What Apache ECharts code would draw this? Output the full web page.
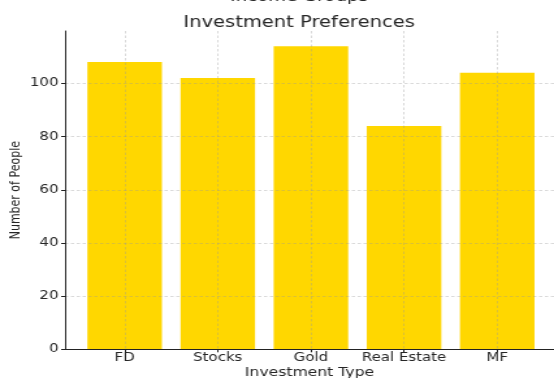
<!DOCTYPE html>
<html>
<head>
<meta charset="utf-8">
<script src="https://cdn.jsdelivr.net/npm/echarts@6/dist/echarts.min.js"></script>
<style>
  html, body { margin: 0; padding: 0; background: #fff; overflow: hidden; }
  /* chart is laid out at a narrower width and widened to fill the page */
  #chart { width: 426px; height: 378px; transform: scaleX(1.3005); transform-origin: 0 0; }
</style>
</head>
<body>
<div id="chart"></div>
<script>
const categories = ['FD', 'Stocks', 'Gold', 'Real Estate', 'MF'];
const people = [108, 102, 114, 84, 104];
const yTicks = [0, 20, 40, 60, 80, 100];

const font = 'DejaVu Sans';
const ink = '#262626';
const gridLine = { show: true, lineStyle: { color: 'rgba(150,150,150,0.45)', width: 0.8, type: [2.5, 2] } };
const catIndex = categories.map((c, i) => i);

const chart = echarts.init(document.getElementById('chart'));
chart.setOption({
  animation: false,
  backgroundColor: '#fff',
  title: [
    { text: 'Income Groups', left: 225, top: -15, textAlign: 'center',
      textStyle: { fontFamily: font, fontSize: 14, fontWeight: 'normal', color: ink } },
    { text: 'Investment Preferences', left: 225, top: 11, textAlign: 'center',
      textStyle: { fontFamily: font, fontSize: 15, fontWeight: 'normal', color: ink } }
  ],
  grid: { left: 50, right: 0, top: 31, bottom: 28.7, containLabel: false, outerBoundsMode: 'none' },
  xAxis: {
    type: 'value',
    min: -0.64,
    max: 4.61,
    z: 5,
    name: 'Investment Type',
    nameLocation: 'middle',
    nameGap: 18,
    nameMoveOverlap: false,
    nameTextStyle: { fontFamily: font, fontSize: 12, color: ink },
    axisLine: { show: true, onZero: false, lineStyle: { color: '#222', width: 1 } },
    axisTick: { show: true, inside: false, length: 3, customValues: catIndex, lineStyle: { color: '#222' } },
    axisLabel: {
      customValues: catIndex,
      formatter: v => categories[Math.round(v)] || '',
      margin: 3,
      fontFamily: font, fontSize: 11.5, color: ink
    },
    splitLine: gridLine
  },
  yAxis: {
    type: 'value',
    min: 0,
    max: 119.7,
    z: 5,
    name: 'Number of People',
    nameLocation: 'middle',
    nameGap: 32,
    nameMoveOverlap: false,
    nameTextStyle: { fontFamily: font, fontSize: 11, color: ink },
    axisLine: { show: true, onZero: false, lineStyle: { color: '#222', width: 1 } },
    axisTick: { show: true, length: 3, customValues: yTicks, lineStyle: { color: '#222' } },
    axisLabel: { customValues: yTicks, margin: 5, fontFamily: font, fontSize: 11.5, color: ink },
    splitLine: gridLine
  },
  series: [{
    type: 'bar',
    data: people.map((v, i) => [i, v]),
    barWidth: 57.3,
    itemStyle: { color: '#FFD700' }
  }]
});
</script>
</body>
</html>
